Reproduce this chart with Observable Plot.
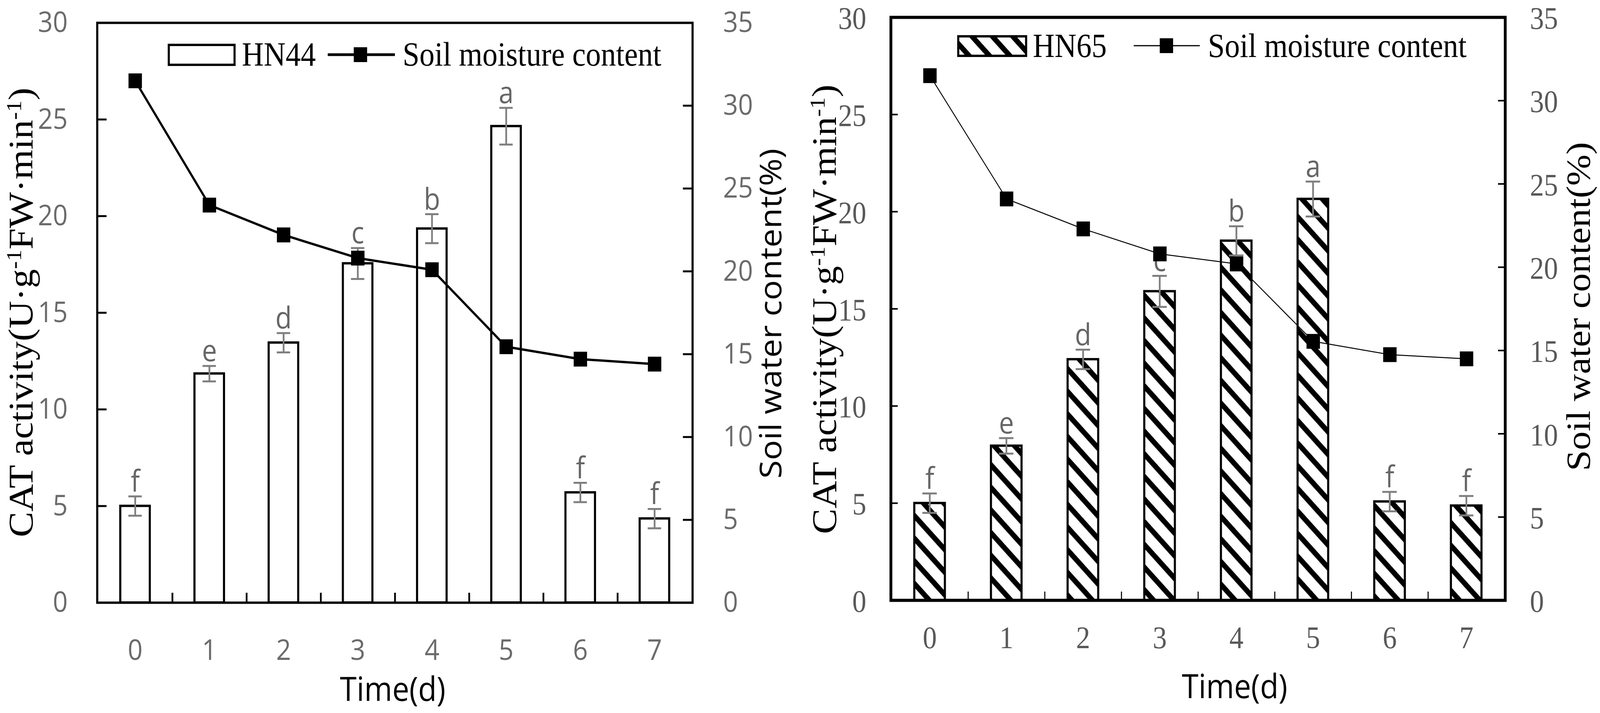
<!DOCTYPE html>
<html>
<head>
<meta charset="utf-8">
<script src="https://cdn.jsdelivr.net/npm/d3@7"></script>
<script src="https://cdn.jsdelivr.net/npm/@observablehq/plot@0.6"></script>
<style>
html, body { margin: 0; padding: 0; background: #fff; overflow: hidden; }
#outer { position: relative; overflow: hidden; background: #fff; }
#root { position: absolute; left: 0; top: 0; width: 4550px; height: 1826px; background: #fff; transform-origin: 0 0; }
.layer { position: absolute; top: 0; width: 2275px; height: 1826px; }
.layer svg { display: block; max-width: none; }
</style>
</head>
<body>
<div id="outer"><div id="root"></div></div>
<script>
// ---------------- data ----------------
const days = [0, 1, 2, 3, 4, 5, 6, 7];
const catTicks = [0, 5, 10, 15, 20, 25, 30];
const moistTicks = [0, 5, 10, 15, 20, 25, 30, 35];

const hn44Cat = [5.0, 11.85, 13.45, 17.55, 19.35, 24.65, 5.7, 4.35];
const hn44Err = [0.5, 0.4, 0.5, 0.8, 0.75, 0.95, 0.5, 0.5];
const hn44Letters = ["f", "e", "d", "c", "b", "a", "f", "f"];
const hn44Moist = [31.5, 24.0, 22.2, 20.8, 20.1, 15.45, 14.7, 14.4];

const hn65Cat = [5.0, 7.95, 12.4, 15.9, 18.5, 20.65, 5.08, 4.87];
const hn65Err = [0.5, 0.4, 0.5, 0.8, 0.75, 0.9, 0.5, 0.5];
const hn65Letters = ["f", "e", "d", "c", "b", "a", "f", "f"];
const hn65Moist = [31.5, 24.1, 22.3, 20.8, 20.2, 15.55, 14.75, 14.5];

const xTitle = "Time(d)";
const yRightTitle = "Soil water content(%)";
const yLeftTitleParts = [["CAT activity(U·g", false], ["-1", true], ["FW·min", false], ["-1", true], [")", false]];
const moistName = "Soil moisture content";

// ---------------- layout / style ----------------
const W = 2275, H = 1826;
const SERIF = "Liberation Serif, Times New Roman, serif";
const SANS = "Open Sans, Noto Sans, sans-serif";

const panels = [
  {
    left: 0, name: "HN44", cat: hn44Cat, err: hn44Err, letters: hn44Letters, moist: hn44Moist,
    ml: 276, mr: 306, mt: 58, mb: 283,
    fill: "white", barStroke: 6, frameW: 6, tickW: 5, xTickW: 5, yTickLen: 27, xTickLen: 25,
    lineW: 6,
    tickFont: SANS, tickSize: 74, tickFill: "#6b6b6b", labelDy: 0,
    leftLabelGap: 84, rightLabelGap: 87, xLabelBaseline: 146,
    catTitleX: 92, catTitleY: 800,
    rightTitleX: 2222, rightTitleY: 803, rightTitleFont: SANS, rightTitleSize: 86,
    timeX: 1117, timeY: 1795,
    legend: {rx: 480, ry: 115, rw: 187, rh: 51, t1x: 688, base: 168, lx1: 932, lx2: 1123, ly: 140, mx: 1025, t2x: 1145, lineW: 7}
  },
  {
    left: 2275, name: "HN65", cat: hn65Cat, err: hn65Err, letters: hn65Letters, moist: hn65Moist,
    ml: 258, mr: 270, mt: 44, mb: 289,
    fill: "url(#hatch65)", barStroke: 6, frameW: 8, tickW: 4, xTickW: 3, yTickLen: 20, xTickLen: 22,
    lineW: 2.5,
    tickFont: SERIF, tickSize: 80, tickFill: "#595959", labelDy: 4,
    leftLabelGap: 70, rightLabelGap: 70, xLabelBaseline: 122,
    catTitleX: 102, catTitleY: 792,
    rightTitleX: 2246, rightTitleY: 785, rightTitleFont: SERIF, rightTitleSize: 96,
    timeX: 1236, timeY: 1788,
    legend: {rx: 450, ry: 93, rw: 193, rh: 50, t1x: 662, base: 146, lx1: 949, lx2: 1137, ly: 117, mx: 1042, t2x: 1160, lineW: 3}
  }
];

function hatchDefs() {
  return () => {
    const defs = d3.create("svg:defs");
    const p = defs.append("pattern")
      .attr("id", "hatch65").attr("patternUnits", "userSpaceOnUse")
      .attr("width", 41).attr("height", 41)
      .attr("patternTransform", "rotate(45)");
    p.append("rect").attr("width", 41).attr("height", 41).attr("fill", "white");
    p.append("rect").attr("width", 41).attr("height", 14).attr("fill", "black");
    return defs.node();
  };
}

function catTitle(cfg) {
  return () => {
    const t = d3.create("svg:text")
      .attr("transform", `translate(${cfg.catTitleX},${cfg.catTitleY}) rotate(-90)`)
      .attr("text-anchor", "middle")
      .style("font-family", SERIF).style("font-size", "98px").attr("fill", "black");
    let up = false;
    for (const [s, sup] of yLeftTitleParts) {
      const ts = t.append("tspan").text(s);
      if (sup) { ts.style("font-size", "60px").attr("dy", -32); up = true; }
      else if (up) { ts.attr("dy", 32); up = false; }
    }
    return t.node();
  };
}

function rotText(str, x, y, font, size) {
  return () => d3.create("svg:text")
    .attr("transform", `translate(${x},${y}) rotate(-90)`)
    .attr("text-anchor", "middle")
    .style("font-family", font).style("font-size", size + "px").attr("fill", "black")
    .text(str).node();
}

function plainText(str, x, y, font, size) {
  return () => d3.create("svg:text")
    .attr("x", x).attr("y", y)
    .attr("text-anchor", "middle")
    .style("font-family", font).style("font-size", size + "px").attr("fill", "black")
    .text(str).node();
}

function legendMark(cfg) {
  return () => {
    const L = cfg.legend;
    const g = d3.create("svg:g");
    g.append("rect").attr("x", L.rx).attr("y", L.ry).attr("width", L.rw).attr("height", L.rh)
      .attr("fill", cfg.fill).attr("stroke", "black").attr("stroke-width", cfg.barStroke);
    g.append("text").attr("x", L.t1x).attr("y", L.base).attr("text-anchor", "start")
      .style("font-family", SERIF).style("font-size", "86px").attr("fill", "black").text(cfg.name);
    g.append("line").attr("x1", L.lx1).attr("x2", L.lx2).attr("y1", L.ly).attr("y2", L.ly)
      .attr("stroke", "black").attr("stroke-width", L.lineW);
    g.append("rect").attr("x", L.mx - 19).attr("y", L.ly - 19).attr("width", 38).attr("height", 38)
      .attr("fill", "black");
    g.append("text").attr("x", L.t2x).attr("y", L.base).attr("text-anchor", "start")
      .style("font-family", SERIF).style("font-size", "86px").attr("fill", "black").text(moistName);
    return g.node();
  };
}

function buildPanel(cfg) {
  const fw = W - cfg.ml - cfg.mr;
  const fh = H - cfg.mt - cfg.mb;
  const step = fw / days.length;
  const rows = days.map((d, i) => ({
    day: d, v: cfg.cat[i], lo: cfg.cat[i] - cfg.err[i], hi: cfg.cat[i] + cfg.err[i], letter: cfg.letters[i]
  }));
  const mrows = days.map((d, i) => ({day: d, m: cfg.moist[i]}));
  const common = {
    width: W, height: H,
    marginLeft: cfg.ml, marginRight: cfg.mr, marginTop: cfg.mt, marginBottom: cfg.mb,
    style: {background: "transparent", overflow: "visible", maxWidth: "none"}
  };
  const errColor = "#7f7f7f";

  const barsPlot = Plot.plot({
    ...common,
    x: {type: "band", domain: days, paddingInner: 0.6, paddingOuter: 0.3, axis: null},
    y: {domain: [0, 30], axis: null},
    marks: [
      hatchDefs(),
      Plot.barY(rows, {x: "day", y: "v", fill: cfg.fill, stroke: "black", strokeWidth: cfg.barStroke}),
      Plot.ruleX(rows, {x: "day", y1: "lo", y2: "hi", stroke: errColor, strokeWidth: 5}),
      Plot.tickY(rows, {x: "day", y: "lo", stroke: errColor, strokeWidth: 5, insetLeft: 23, insetRight: 23}),
      Plot.tickY(rows, {x: "day", y: "hi", stroke: errColor, strokeWidth: 5, insetLeft: 23, insetRight: 23}),
      Plot.text(rows, {x: "day", y: "hi", text: "letter", dy: -12, lineAnchor: "bottom",
        fontFamily: SANS, fontSize: 76, fill: "#666"}),
      Plot.ruleY(catTicks, {y: d => d, insetRight: fw - cfg.yTickLen, stroke: "black", strokeWidth: cfg.tickW}),
      Plot.text(catTicks, {y: d => d, text: d => String(d), frameAnchor: "left", dx: -cfg.leftLabelGap, dy: cfg.labelDy,
        textAnchor: "end", lineAnchor: "middle", fontFamily: cfg.tickFont, fontSize: cfg.tickSize, fill: cfg.tickFill}),
      Plot.ruleX(days.slice(0, days.length - 1), {x: d => d, dx: step / 2, insetTop: fh - cfg.xTickLen,
        stroke: "black", strokeWidth: cfg.xTickW}),
      Plot.text(days, {x: d => d, text: d => String(d), frameAnchor: "bottom", dy: cfg.xLabelBaseline,
        lineAnchor: "bottom", fontFamily: cfg.tickFont, fontSize: cfg.tickSize, fill: cfg.tickFill}),
      Plot.frame({stroke: "black", strokeWidth: cfg.frameW}),
      catTitle(cfg),
      plainText(xTitle, cfg.timeX, cfg.timeY, SANS, 86),
      legendMark(cfg)
    ]
  });

  const linePlot = Plot.plot({
    ...common,
    x: {type: "point", domain: days, padding: 0.5, axis: null},
    y: {domain: [0, 35], axis: null},
    marks: [
      Plot.line(mrows, {x: "day", y: "m", stroke: "black", strokeWidth: cfg.lineW}),
      Plot.dot(mrows, {x: "day", y: "m", symbol: "square", r: 21.5, fill: "black", stroke: "none"}),
      Plot.ruleY(moistTicks, {y: d => d, insetLeft: fw - cfg.yTickLen, stroke: "black", strokeWidth: cfg.tickW}),
      Plot.text(moistTicks, {y: d => d, text: d => String(d), frameAnchor: "right", dx: cfg.rightLabelGap, dy: cfg.labelDy,
        textAnchor: "start", lineAnchor: "middle", fontFamily: cfg.tickFont, fontSize: cfg.tickSize, fill: cfg.tickFill}),
      rotText(yRightTitle, cfg.rightTitleX, cfg.rightTitleY, cfg.rightTitleFont, cfg.rightTitleSize)
    ]
  });

  for (const svg of [barsPlot, linePlot]) {
    const div = document.createElement("div");
    div.className = "layer";
    div.style.left = cfg.left + "px";
    div.appendChild(svg);
    document.getElementById("root").appendChild(div);
  }
}

panels.forEach(buildPanel);

// fit the 4550×1826 design into the actual viewport
function fit() {
  const vw = document.documentElement.clientWidth || window.innerWidth || 4550;
  const vh = document.documentElement.clientHeight || window.innerHeight || 1826;
  const sx = vw / 4550;
  let sy = vh / 1826;
  if (!(sy > 0.5 * sx && sy < 2 * sx)) sy = sx;
  const outer = document.getElementById("outer");
  outer.style.width = (4550 * sx) + "px";
  outer.style.height = (1826 * sy) + "px";
  document.getElementById("root").style.transform = `scale(${sx}, ${sy})`;
}
fit();
window.addEventListener("resize", fit);
</script>
</body>
</html>
